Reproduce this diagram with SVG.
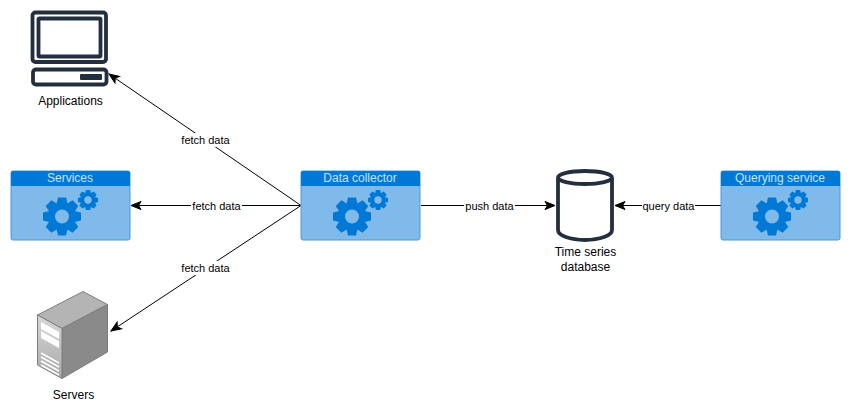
<svg xmlns="http://www.w3.org/2000/svg" xmlns:xlink="http://www.w3.org/1999/xlink" width="850" height="420" viewBox="0 0 850 420">
<style>
text{font-family:"Liberation Sans",Arial,sans-serif;font-size:12px;fill:#000;text-anchor:middle}
.small{font-size:11px}
.head{fill:#c4e3fb}
.conn{fill:none;stroke:#000;stroke-width:1;marker-end:url(#arr)}
.dark{fill:none;stroke:#232f3e;stroke-width:3.800}
.lbl{fill:#fff}
</style>
<defs>
<marker id="arr" markerUnits="userSpaceOnUse" markerWidth="12" markerHeight="10" refX="10" refY="4" orient="auto" overflow="visible"><path d="M10 4 0 0 2.500 4 0 8Z" fill="#000" stroke="#000"/></marker>
<g id="tooth"><polygon points="-5.500,-12.500 5.500,-12.500 4,-19 -4,-19" fill="#0079d6"/></g>
<g id="gear"><circle r="10.500" fill="none" stroke="#0079d6" stroke-width="7"/>
<use xlink:href="#tooth" href="#tooth"/><use xlink:href="#tooth" href="#tooth" transform="rotate(45)"/><use xlink:href="#tooth" href="#tooth" transform="rotate(90)"/><use xlink:href="#tooth" href="#tooth" transform="rotate(135)"/><use xlink:href="#tooth" href="#tooth" transform="rotate(180)"/><use xlink:href="#tooth" href="#tooth" transform="rotate(225)"/><use xlink:href="#tooth" href="#tooth" transform="rotate(270)"/><use xlink:href="#tooth" href="#tooth" transform="rotate(315)"/></g>
<g id="svc"><rect x="0.500" y="0.500" width="119" height="69" rx="2" fill="#7fbaea" stroke="#4a9ade"/><path d="M0.500 15.500V2.500a2 2 0 0 1 2-2h115a2 2 0 0 1 2 2V15.500Z" fill="#0079d6"/><use xlink:href="#gear" href="#gear" transform="translate(51.500 46)"/><use xlink:href="#gear" href="#gear" transform="translate(77.500 29.500) scale(.53)"/></g>
<linearGradient id="face" x1="0" y1="0" x2="0" y2="1"><stop offset="0" stop-color="#d8d8d8"/><stop offset="1" stop-color="#a8a8a8"/></linearGradient>
</defs>
<g id="connectors">
<path class="conn" d="M301 205.500 109 74"/>
<path class="conn" d="M301 205.500H131"/>
<path class="conn" d="M301 205.500 111 331"/>
<path class="conn" d="M421 205.500H555"/>
<path class="conn" d="M721 205.500H615"/>
<rect class="lbl" x="180" y="133" width="51" height="14"/><text class="small" x="205.500" y="144">fetch data</text>
<rect class="lbl" x="191" y="199" width="51" height="14"/><text class="small" x="216.500" y="210">fetch data</text>
<rect class="lbl" x="180" y="261" width="51" height="14"/><text class="small" x="205.500" y="272">fetch data</text>
<rect class="lbl" x="464" y="199" width="51" height="14"/><text class="small" x="489.500" y="210">push data</text>
<rect class="lbl" x="642" y="199" width="53" height="14"/><text class="small" x="668.500" y="210">query data</text>
</g>
<g id="applications">
<rect class="dark" x="32.500" y="12.500" width="73.500" height="49.500" rx="3"/>
<rect class="dark" x="38.500" y="18.500" width="62" height="38" rx="1"/>
<rect class="dark" x="33" y="69.500" width="73.500" height="15" rx="3"/>
<rect x="80" y="74" width="22" height="6" rx="1" fill="#232f3e"/>
<text x="70.500" y="105">Applications</text>
</g>
<g id="services"><use xlink:href="#svc" href="#svc" transform="translate(10.500 170.500)"/><text class="head" x="70" y="182">Services</text></g>
<g id="data-collector"><use xlink:href="#svc" href="#svc" transform="translate(300.500 170.500)"/><text class="head" x="360" y="182">Data collector</text></g>
<g id="querying-service"><use xlink:href="#svc" href="#svc" transform="translate(720.500 170.500)"/><text class="head" x="780" y="182">Querying service</text></g>
<g id="servers">
<polygon points="37.500,315 83,291.500 107.500,304.500 62,328.500" fill="#b4b4b4" stroke="#7d7d7d"/>
<polygon points="62,328.500 107.500,304.500 107.500,352 62,378.500" fill="#8a8a8a" stroke="#7d7d7d"/>
<polygon points="37.500,315 62,328.500 62,378.500 37.500,365" fill="url(#face)" stroke="#7d7d7d"/>
<polygon points="41,322 59,332 59,339 41,329" fill="#fff"/>
<polygon points="41,331 59,341 59,348 41,338" fill="#fff"/>
<path d="M41 353 59 363M41 357 59 367M41 361 59 371M41 365 59 375" stroke="#fff" stroke-width="1.500"/>
<text x="73.500" y="399">Servers</text>
</g>
<g id="time-series-database">
<path class="dark" d="M558 178V230C558 235.500 570 240 585 240S612 235.500 612 230V178"/>
<ellipse class="dark" cx="585" cy="177.500" rx="27" ry="6.500"/>
<text x="585.500" y="256">Time series</text>
<text x="585.500" y="271">database</text>
</g>
</svg>
